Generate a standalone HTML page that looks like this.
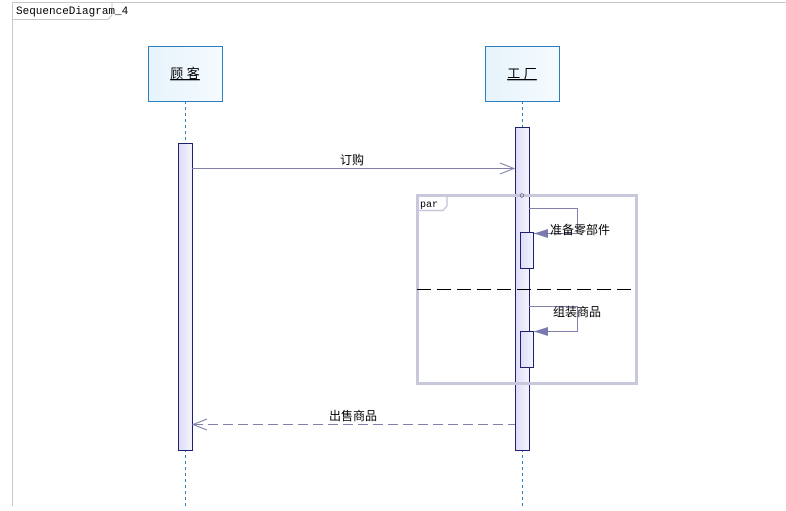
<!DOCTYPE html><html><head><meta charset="utf-8"><style>body{margin:0;background:#fff;width:786px;height:506px;overflow:hidden}</style></head><body>
<svg width="786" height="506" xmlns="http://www.w3.org/2000/svg" font-family="Liberation Sans, Noto Sans CJK SC, sans-serif">
<defs><linearGradient id="g" x1="0" x2="1"><stop offset="0" stop-color="#e6f3fb"/><stop offset="1" stop-color="#f6fbff"/></linearGradient>
<linearGradient id="a" x1="0" x2="1"><stop offset="0" stop-color="#dcdcf8"/><stop offset="1" stop-color="#f4f4ff"/></linearGradient></defs>
<path d="M12.5 506 V2.5 H786" fill="none" stroke="#c8c8c8"/>
<path d="M12.5 19.5 H108 L112 15 V2.5" fill="none" stroke="#c8c8c8"/>
<text x="16" y="14" font-family="Liberation Mono, monospace" font-size="11">SequenceDiagram_4</text>
<line x1="185.5" y1="101" x2="185.5" y2="506" stroke="#2a7fc0" stroke-dasharray="3,3"/>
<line x1="522.5" y1="101" x2="522.5" y2="506" stroke="#2a7fc0" stroke-dasharray="3,3"/>
<rect x="148.5" y="46.5" width="74" height="55" fill="url(#g)" stroke="#2a7fc0"/>
<rect x="485.5" y="46.5" width="74" height="55" fill="url(#g)" stroke="#2a7fc0"/>
<text x="185" y="78" font-size="13" text-anchor="middle" text-decoration="underline">顾 客</text>
<text x="522" y="78" font-size="13" text-anchor="middle" text-decoration="underline">工 厂</text>
<rect x="178.5" y="143.5" width="14" height="307" fill="url(#a)" stroke="#202070"/>
<rect x="515.5" y="127.5" width="14" height="323" fill="url(#a)" stroke="#202070"/>
<rect x="417.5" y="195.5" width="219" height="188" fill="none" stroke="#c8c8dc" stroke-width="3"/>
<path d="M417 210.5 H443 L447 206 V195" fill="none" stroke="#c8c8dc" stroke-width="1.5"/>
<text x="420" y="207" font-family="Liberation Mono, monospace" font-size="10">par</text>
<line x1="417" y1="289.5" x2="637" y2="289.5" stroke="#000" stroke-dasharray="14,6"/>
<text x="522" y="198" font-size="9" text-anchor="middle">○</text>
<line x1="192" y1="168.5" x2="514" y2="168.5" stroke="#8080a8"/>
<path d="M500 163 L514 168.5 L500 174" fill="none" stroke="#8080a8"/>
<text x="352" y="164" font-size="12" text-anchor="middle">订购</text>
<path d="M529 208.5 H577.5 V233.5 H534" fill="none" stroke="#8080a8"/>
<path d="M534 233.5 L548 229 L548 238 Z" fill="#7a7ab0"/>
<rect x="520.5" y="232.5" width="13" height="36" fill="url(#a)" stroke="#202070"/>
<text x="550" y="234" font-size="12">准备零部件</text>
<path d="M529 306.5 H577.5 V331.5 H534" fill="none" stroke="#8080a8"/>
<path d="M534 331.5 L548 327 L548 336 Z" fill="#7a7ab0"/>
<rect x="520.5" y="331.5" width="13" height="36" fill="url(#a)" stroke="#202070"/>
<text x="553" y="316" font-size="12">组装商品</text>
<line x1="193" y1="424.5" x2="515" y2="424.5" stroke="#8080a8" stroke-dasharray="10,5"/>
<path d="M207 419 L193 424.5 L207 430" fill="none" stroke="#8080a8"/>
<text x="353" y="420" font-size="12" text-anchor="middle">出售商品</text>
</svg></body></html>
